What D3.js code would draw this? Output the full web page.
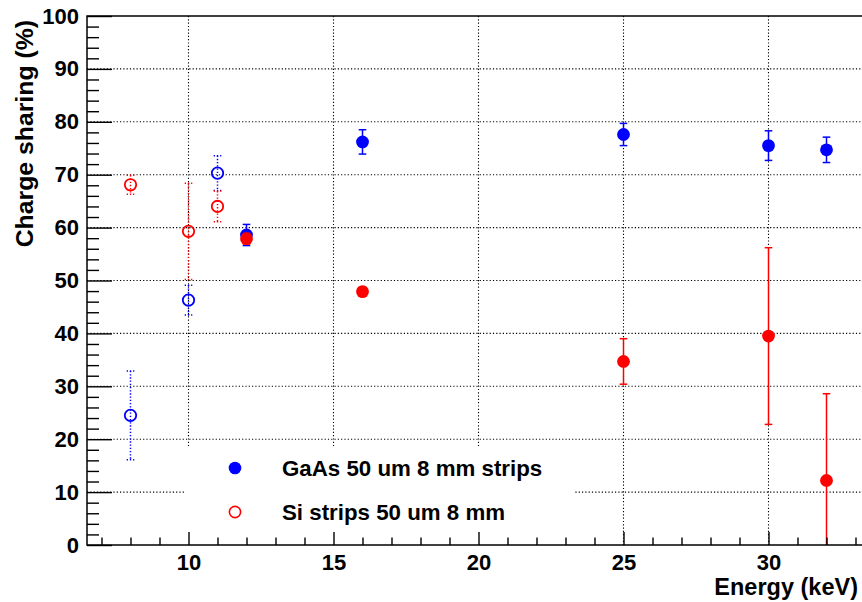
<!DOCTYPE html>
<html>
<head>
<meta charset="utf-8">
<script src="https://cdn.jsdelivr.net/npm/d3@7"></script>
<style>
  html, body { margin: 0; padding: 0; background: #fff; }
  svg { display: block; font-family: "Liberation Sans", Arial, Helvetica, sans-serif; font-weight: bold; }
</style>
</head>
<body>
<svg id="chart" width="862" height="602"></svg>
<script>
// GaAs strip detector, 50 um thick, 8 mm strips
const gaasLowEnergy = [8, 10, 11];
const gaasLowValue  = [24.5, 46.3, 70.3];
const gaasLowError  = [8.4, 2.8, 3.3];

const gaasEnergy = [12, 16, 25, 30, 32];
const gaasValue  = [58.6, 76.2, 77.6, 75.5, 74.7];
const gaasError  = [2.0, 2.3, 2.1, 2.8, 2.4];

// Si strip detector, 50 um thick, 8 mm
const siLowEnergy = [8, 10, 11];
const siLowValue  = [68.1, 59.3, 64.0];
const siLowError  = [1.8, 9.1, 2.9];

const siEnergy = [12, 16, 25, 30, 32];
const siValue  = [57.9, 47.9, 34.7, 39.5, 12.2];
const siError  = [1.0, 0.8, 4.3, 16.7, 16.4];

const xMajorTicks = [10, 15, 20, 25, 30];
const xMinorTicks = [7, 8, 9, 11, 12, 13, 14, 16, 17, 18, 19, 21, 22, 23, 24, 26, 27, 28, 29, 31, 32, 33];
const yMajorTicks = [0, 10, 20, 30, 40, 50, 60, 70, 80, 90, 100];
const yMinorTicks = d3.range(0, 101, 2).filter(v => v % 10 !== 0);

const legendLabels = ["GaAs 50 um 8 mm strips", "Si strips 50 um 8 mm"];
const xTitle = "Energy (keV)";
const yTitle = "Charge sharing (%)";

const BLUE = "#0000ff", RED = "#ff0000";

const plot = { left: 87, right: 863, top: 16, bottom: 545 };

const svg = d3.select("#chart");

const x = d3.scaleLinear().domain([6.5, 33.25]).range([plot.left, plot.left + 26.75 * 29]);
const y = d3.scaleLinear().domain([0, 100]).range([plot.bottom, plot.top]);

// Grid (dotted) at major ticks
const grid = svg.append("g")
  .attr("stroke", "#000").attr("stroke-width", 1.1).attr("stroke-dasharray", "1.2,2.1");
grid.selectAll("line.gx").data(xMajorTicks).join("line")
  .attr("x1", d => x(d)).attr("x2", d => x(d))
  .attr("y1", plot.top).attr("y2", plot.bottom);
grid.selectAll("line.gy").data(yMajorTicks.filter(v => v > 0 && v < 100)).join("line")
  .attr("x1", plot.left).attr("x2", plot.right)
  .attr("y1", d => y(d)).attr("y2", d => y(d));

// Legend box (white, no border) sits over the grid
const legendBox = { x0: 185, x1: 574, y0: 446, y1: 545 };
svg.append("rect")
  .attr("x", legendBox.x0).attr("y", legendBox.y0)
  .attr("width", legendBox.x1 - legendBox.x0).attr("height", legendBox.y1 - legendBox.y0)
  .attr("fill", "#fff");

// Data layer, clipped to the frame
svg.append("clipPath").attr("id", "plotClip").append("rect")
  .attr("x", plot.left).attr("y", plot.top)
  .attr("width", plot.right - plot.left).attr("height", plot.bottom - plot.top);
const dataG = svg.append("g").attr("clip-path", "url(#plotClip)");

function series(energy, value, error, color, filled) {
  const pts = energy.map((e, i) => ({ e, v: value[i], err: error[i] }));
  const g = dataG.append("g");
  const dash = filled ? null : "1.3,1.9";
  const cap = 3.8;
  const eb = g.append("g").attr("stroke", color).attr("stroke-width", 1.5).attr("stroke-dasharray", dash);
  eb.selectAll("line.bar").data(pts).join("line")
    .attr("x1", d => x(d.e)).attr("x2", d => x(d.e))
    .attr("y1", d => y(d.v + d.err)).attr("y2", d => y(d.v - d.err));
  eb.selectAll("line.top").data(pts).join("line")
    .attr("x1", d => x(d.e) - cap).attr("x2", d => x(d.e) + cap)
    .attr("y1", d => y(d.v + d.err)).attr("y2", d => y(d.v + d.err));
  eb.selectAll("line.bot").data(pts).join("line")
    .attr("x1", d => x(d.e) - cap).attr("x2", d => x(d.e) + cap)
    .attr("y1", d => y(d.v - d.err)).attr("y2", d => y(d.v - d.err));
  g.selectAll("circle").data(pts).join("circle")
    .attr("cx", d => x(d.e)).attr("cy", d => y(d.v))
    .attr("r", filled ? 6.4 : 5.7)
    .attr("fill", filled ? color : "none")
    .attr("stroke", filled ? "none" : color)
    .attr("stroke-width", filled ? 0 : 1.8);
}

series(gaasLowEnergy, gaasLowValue, gaasLowError, BLUE, false);
series(siLowEnergy, siLowValue, siLowError, RED, false);
series(gaasEnergy, gaasValue, gaasError, BLUE, true);
series(siEnergy, siValue, siError, RED, true);

// Axes with inward ticks
const labelFont = 22;
svg.append("g").attr("transform", `translate(0,${plot.bottom})`)
  .call(d3.axisBottom(x).tickValues(xMajorTicks).tickSizeInner(-13).tickSizeOuter(0).tickPadding(9).tickFormat(d3.format("d")));
svg.append("g").attr("transform", `translate(0,${plot.bottom})`)
  .call(d3.axisBottom(x).tickValues(xMinorTicks).tickSizeInner(-7.5).tickSizeOuter(0).tickFormat(""));
svg.append("g").attr("transform", `translate(${plot.left},0)`)
  .call(d3.axisLeft(y).tickValues(yMajorTicks).tickSizeInner(-25).tickSizeOuter(0).tickPadding(8).tickFormat(d3.format("d")));
svg.append("g").attr("transform", `translate(${plot.left},0)`)
  .call(d3.axisLeft(y).tickValues(yMinorTicks).tickSizeInner(-12).tickSizeOuter(0).tickFormat(""));

svg.selectAll(".domain").remove();
svg.selectAll(".tick line").attr("stroke", "#000").attr("stroke-width", 1.4);
svg.selectAll(".tick text")
  .attr("fill", "#000")
  .style("font-family", '"Liberation Sans", Arial, Helvetica, sans-serif')
  .style("font-weight", "bold")
  .style("font-size", labelFont + "px");

// Frame
svg.append("rect")
  .attr("x", plot.left).attr("y", plot.top)
  .attr("width", plot.right - plot.left).attr("height", plot.bottom - plot.top)
  .attr("fill", "none").attr("stroke", "#000").attr("stroke-width", 1.5);

// Axis titles
svg.append("text")
  .attr("x", 858).attr("y", 595)
  .attr("text-anchor", "end")
  .style("font-size", "23.5px")
  .text(xTitle);
svg.append("text")
  .attr("transform", "translate(33,20) rotate(-90)")
  .attr("text-anchor", "end")
  .style("font-size", "24.8px")
  .text(yTitle);

// Legend entries
const legendRows = [
  { label: legendLabels[0], color: BLUE, filled: true,  cy: 468 },
  { label: legendLabels[1], color: RED,  filled: false, cy: 512 }
];
const lg = svg.append("g");
lg.selectAll("circle").data(legendRows).join("circle")
  .attr("cx", 235).attr("cy", d => d.cy)
  .attr("r", d => d.filled ? 6.3 : 5.6)
  .attr("fill", d => d.filled ? d.color : "none")
  .attr("stroke", d => d.filled ? "none" : d.color)
  .attr("stroke-width", 1.6);
lg.selectAll("text").data(legendRows).join("text")
  .attr("x", 282).attr("y", d => d.cy + 8)
  .style("font-size", "22.3px")
  .text(d => d.label);
</script>
</body>
</html>
